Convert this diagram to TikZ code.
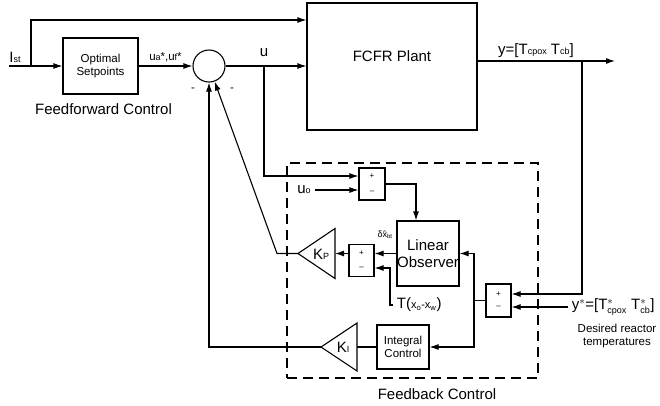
\documentclass[tikz,border=0pt]{standalone}
\usepackage{fontspec}
\setmainfont{Liberation Sans}
\usetikzlibrary{arrows.meta, positioning, calc}
\newcommand\sml[1]{{\fontsize{9}{9}\selectfont #1}}

\begin{document}
\begin{tikzpicture}[x=1pt, y=-1pt, line width=1.1pt, >={Latex[length=9pt,width=6pt]},
  blk/.style={draw, inner sep=0pt, align=center},
  sumbox/.style={draw, minimum width=25pt, minimum height=32pt, inner sep=0pt},
  big/.style={font=\fontsize{15}{17}\selectfont, align=center},
  small/.style={font=\fontsize{11.5}{13}\selectfont, align=center},
  sgn/.style={font=\fontsize{8}{8}\selectfont, inner sep=0pt}]
\useasboundingbox (0,0) rectangle (660,405);

% feedforward part and plant
\node[blk, minimum width=75pt, minimum height=56pt, small] (opt) at (100.5,66) {Optimal\\Setpoints};
\node[big] (ffc) at (103.5,109) {Feedforward Control};
\node[draw, circle, minimum size=32pt, inner sep=0pt] (sum) at (209,66) {};
\node[blk, minimum width=170pt, minimum height=127pt, big] (plant) at (392,66.5) {FCFR Plant\\[4pt]};

% feedback part
\node[draw, dashed, line width=2pt, dash pattern=on 10pt off 6pt, minimum width=251pt, minimum height=215pt] (fb) at (412.5,270.5) {};
\node[big] (fbc) at (437,394) {Feedback Control};
\node[sumbox, minimum width=26pt] (s1) at (372,184) {};
\node[sumbox] (s2) at (361.5,260.5) {};
\node[sumbox, minimum height=33pt] (s3) at (498.5,300.5) {};
\foreach \s/\d in {s1/8, s2/7.5, s3/6.5} {
  \node[sgn] at ([yshift=\d pt]\s.center) {+};
  \node[sgn] at ([yshift=-\d pt]\s.center) {--};
}
\node[blk, minimum width=62pt, minimum height=65pt, big] (obs) at (428,253.5) {Linear\\Observer};
\node[blk, minimum width=52pt, minimum height=44pt, small] (int) at (403,347) {Integral\\Control};

% gains
\coordinate (kpa) at (298,253.5);
\coordinate (kpb) at (335,253.5);
\coordinate (kia) at (321,347);
\coordinate (kib) at (357,347);
\draw (kpa) -- ++(37,-25) -- ++(0,50) -- cycle;
\draw (kia) -- ++(36,-24) -- ++(0,48) -- cycle;
\node[big] (kp) at (321,254) {K\sml{P}};
\node[big] (ki) at (343,347) {K\sml{I}};

% labels
\node[big] (ist) at (15,57) {I\sml{st}};
\node[big] (u) at (264,53) {u};
\node[big] (uo) at (304,190) {u\sml{o}};
\node[font=\fontsize{9}{9}\selectfont, inner sep=1pt] (dx) at (385,235) {δ\^{x}\textsubscript{bt}};
\node[big, anchor=west] (tx) at (393,305) {T(\fontsize{11}{11}\selectfont x\textsubscript{o}-x\textsubscript{w}\fontsize{15}{15}\selectfont)};
\node[big] (y) at (536,51) {y=[T\sml{cpox} T\sml{cb}]};
\node[big, anchor=west] (ys) at (568,307) {y$^*$=[T$^*_{\hbox{\sml{cpox}}}$ T$^*_{\hbox{\sml{cb}}}$]};
\node[small] (des) at (617,336) {Desired reactor\\temperatures};
\node[small] (m1) at (193,90) {-};
\node[small] (m2) at (232,90) {-};

% junctions
\coordinate (in) at (9,66);
\coordinate (j1) at (31,66);
\coordinate (top) at (31,20);
\coordinate (j2) at (264,66);
\coordinate (yend) at (615,61);
\coordinate (j3) at (582,61);
\coordinate (j4) at (474,300.5);
\coordinate (j5) at (277,253.5);
\coordinate (tc) at (390,305);

% connectors
\draw[->] (in) -- (opt);
\draw[->] (j1) -- (top) -- (top -| plant.west);
\draw[->] (opt) -- (sum) node[midway, above, font=\fontsize{11.5}{11.5}\selectfont] {u\sml{a}*,u\sml{f}*};
\draw[->] (sum) -- (sum -| plant.west);
\draw[->] (j2) |- ([yshift=8pt]s1.west);
\draw[->] (uo) -- (uo -| s1.west);
\draw[->] (s1.east) -| ([xshift=-12pt]obs.north);
\draw[->] (obs.west) -- (obs.west -| s2.east);
\draw[->] (s2.west |- kpb) -- (kpb);
\draw[->] (tx.west) -- (tc) |- ([yshift=-7.5pt]s2.east);
\draw[->] (plant.east |- yend) -- (yend);
\draw[->] (j3) |- ([yshift=6.5pt]s3.east);
\draw[->] (ys.west) -- (ys.west -| s3.east);
\draw (s3.west) -- (j4);
\draw[->] (j4) |- (obs.east);
\draw[->] (j4) |- (int.east);
\draw (int.west) -- (kib);
\draw[->] (kia) -| (sum.south);
\draw[->] (kpa) -- (j5) -- (sum.-70);
\end{tikzpicture}
\end{document}
